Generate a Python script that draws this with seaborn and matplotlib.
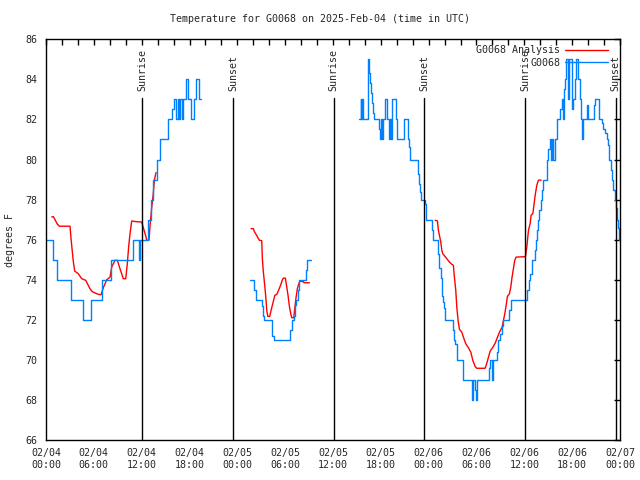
import matplotlib
matplotlib.use('Agg')
import matplotlib.pyplot as plt
import pandas as pd
import seaborn as sns

# hours since 2025-02-04 00:00 UTC, temperature in F
obs_day1 = [(0, 76), (0.84, 75), (1.42, 74), (3.10, 73), (4.60, 72), (5.61, 73), (6.99, 74),
            (8.12, 75), (10.95, 76), (11.70, 75), (11.83, 76), (12.84, 77), (13.17, 78),
            (13.46, 79), (13.89, 80), (14.30, 81), (15.27, 82), (15.85, 82.5), (16.10, 83),
            (16.35, 82), (16.50, 83), (16.70, 82), (16.85, 83), (17.05, 82), (17.20, 83),
            (17.53, 84), (17.80, 83), (18.16, 82), (18.57, 83), (18.82, 84), (19.20, 83),
            (19.41, 83)]
obs_day2 = [(25.60, 74), (26.14, 73.5), (26.39, 73), (27.14, 72.7), (27.26, 72.2), (27.39, 72),
            (28.39, 71.2), (28.64, 71), (30.65, 71.5), (30.90, 72), (31.15, 72.2), (31.28, 72.75),
            (31.40, 73), (31.66, 73.5), (31.78, 74), (32.66, 74.5), (32.79, 75), (33.21, 75)]
obs_day3 = [(39.31, 82), (39.45, 83), (39.56, 82), (39.69, 83), (39.80, 82), (40.44, 85),
            (40.56, 84.3), (40.69, 83.8), (40.81, 83.3), (40.94, 82.8), (41.07, 82.3), (41.19, 82),
            (41.82, 81.5), (41.94, 81), (42.07, 82), (42.20, 81), (42.32, 82), (42.57, 83),
            (42.82, 82), (43.07, 81), (43.20, 82), (43.32, 81), (43.45, 83), (43.87, 82),
            (44.08, 81), (44.96, 82), (45.38, 81), (45.50, 80.6), (45.63, 80), (46.71, 79.3),
            (46.84, 78.8), (46.96, 78.4), (47.09, 78), (47.55, 77.8), (47.68, 77), (48.39, 76.5),
            (48.60, 76), (49.14, 75.3), (49.35, 74.6), (49.52, 74.1), (49.69, 73.2), (49.85, 72.9),
            (49.98, 72.6), (50.10, 72), (51.10, 71.5), (51.23, 71), (51.36, 70.8), (51.53, 70),
            (52.28, 69.6), (52.36, 69), (53.49, 68), (53.61, 69), (53.79, 68.5), (53.91, 68),
            (54.04, 69), (55.62, 69.6), (55.71, 70), (55.96, 69), (56.12, 70), (56.63, 70.4),
            (56.75, 71), (56.96, 71.3), (57.17, 71.7), (57.30, 72), (58.13, 72.5), (58.38, 73),
            (60.31, 73.5), (60.56, 74), (60.73, 74.3), (60.94, 75), (61.36, 75.5), (61.48, 76),
            (61.65, 76.5), (61.77, 77), (61.90, 77.5), (62.07, 78), (62.20, 78.5), (62.32, 79),
            (62.82, 79.6), (62.90, 80), (63.02, 80.5), (63.24, 81), (63.40, 80), (63.53, 81),
            (63.65, 80), (63.90, 81), (64.08, 82), (64.49, 82.5), (64.70, 83), (64.83, 82),
            (64.96, 83.5), (65.08, 84), (65.21, 85), (65.46, 83), (65.66, 85), (65.96, 82.5),
            (66.16, 83), (66.37, 84), (66.50, 85), (66.79, 84), (67.00, 83), (67.13, 82),
            (67.25, 81), (67.38, 82), (67.84, 82.7), (67.97, 82), (68.76, 82.7), (68.92, 83),
            (69.42, 82), (69.72, 81.8), (69.92, 81.5), (70.14, 81.3), (70.35, 81), (70.48, 80.7),
            (70.68, 80), (70.86, 79.5), (70.98, 79), (71.18, 78.5), (71.39, 78), (71.51, 77.6),
            (71.68, 77), (71.80, 76.6), (71.88, 76), (72.0, 76)]

ana_day1 = [(0.72, 77.13), (0.92, 77.15), (1.13, 77.0), (1.38, 76.8), (1.67, 76.67), (3.01, 76.67),
            (3.14, 76.05), (3.30, 75.4), (3.43, 74.9), (3.60, 74.43), (4.05, 74.3), (4.48, 74.05),
            (4.98, 73.97), (5.52, 73.55), (5.81, 73.4), (6.56, 73.27), (6.90, 73.25), (7.19, 73.6),
            (7.62, 74.0), (8.03, 74.13), (8.24, 74.63), (8.66, 74.97), (8.95, 74.97), (9.28, 74.55),
            (9.70, 74.05), (10.00, 74.05), (10.20, 74.8), (10.38, 75.7), (10.54, 76.3),
            (10.75, 76.93), (11.29, 76.9), (12.00, 76.88), (12.30, 76.47), (12.55, 76.13),
            (12.63, 75.97), (12.92, 75.97), (13.05, 76.7), (13.26, 77.6), (13.46, 78.3),
            (13.59, 78.97), (13.80, 79.35)]
ana_day2 = [(25.72, 76.55), (26.01, 76.55), (26.14, 76.4), (26.44, 76.2), (26.76, 75.97),
            (27.06, 75.95), (27.14, 75.05), (27.26, 74.4), (27.44, 73.7), (27.57, 73.13),
            (27.69, 72.47), (27.82, 72.17), (28.07, 72.17), (28.19, 72.4), (28.44, 72.8),
            (28.70, 73.22), (28.95, 73.27), (29.20, 73.5), (29.45, 73.75), (29.65, 74.0),
            (29.77, 74.08), (30.03, 74.08), (30.20, 73.63), (30.36, 73.22), (30.53, 72.67),
            (30.70, 72.3), (30.83, 72.1), (31.08, 72.1), (31.20, 72.55), (31.37, 73.13),
            (31.53, 73.55), (31.71, 73.8), (31.87, 73.93), (32.28, 73.9), (32.37, 73.85),
            (33.04, 73.85)]
ana_day3 = [(48.81, 76.97), (49.10, 76.93), (49.22, 76.47), (49.35, 76.22), (49.52, 75.88),
            (49.65, 75.47), (49.77, 75.3), (49.94, 75.22), (50.27, 75.05), (50.60, 74.88),
            (50.90, 74.77), (51.10, 74.72), (51.23, 74.13), (51.40, 73.47), (51.53, 72.63),
            (51.69, 71.97), (51.86, 71.52), (52.16, 71.38), (52.36, 71.13), (52.66, 70.8),
            (52.99, 70.6), (53.29, 70.38), (53.54, 69.97), (53.83, 69.67), (54.04, 69.58),
            (55.08, 69.58), (55.29, 69.83), (55.50, 70.13), (55.71, 70.43), (56.05, 70.63),
            (56.34, 70.83), (56.63, 71.13), (56.88, 71.38), (57.21, 71.63), (57.38, 71.97),
            (57.55, 72.3), (57.72, 72.72), (57.88, 73.17), (58.13, 73.3), (58.30, 73.63),
            (58.46, 74.13), (58.63, 74.55), (58.80, 74.97), (58.97, 75.13), (60.14, 75.15),
            (60.31, 75.63), (60.52, 76.47), (60.73, 76.8), (60.85, 77.22), (61.07, 77.3),
            (61.23, 77.8), (61.36, 78.22), (61.57, 78.72), (61.77, 78.97), (62.11, 78.97)]

sunrise = [12.05, 36.10, 60.10]
sunset = [23.46, 47.43, 71.48]

tick_hours = [0, 6, 12, 18, 24, 30, 36, 42, 48, 54, 60, 66, 72]
tick_labels = ['02/04\n00:00', '02/04\n06:00', '02/04\n12:00', '02/04\n18:00',
               '02/05\n00:00', '02/05\n06:00', '02/05\n12:00', '02/05\n18:00',
               '02/06\n00:00', '02/06\n06:00', '02/06\n12:00', '02/06\n18:00',
               '02/07\n00:00']

sns.set_style('white')
plt.rcParams['font.family'] = ['DejaVu Sans Mono']
fs = 7.2

fig = plt.figure(figsize=(6.4, 4.8), dpi=100)
ax = fig.add_axes([46 / 640, 40 / 480, 574 / 640, 400.7 / 480])

red = '#ff0000'
blue = '#0080ff'

# analysis first, observations on top
for i, seg in enumerate([ana_day1, ana_day2, ana_day3]):
    d = pd.DataFrame(seg, columns=['hour', 'temp'])
    sns.lineplot(data=d, x='hour', y='temp', color=red, lw=1, sort=False, estimator=None,
                 label='G0068 Analysis' if i == 0 else None, ax=ax)
for i, seg in enumerate([obs_day1, obs_day2, obs_day3]):
    d = pd.DataFrame(seg, columns=['hour', 'temp'])
    sns.lineplot(data=d, x='hour', y='temp', color=blue, lw=1, sort=False, estimator=None,
                 drawstyle='steps-post', label='G0068' if i == 0 else None, ax=ax)

for t in sunrise:
    ax.plot([t, t], [66, 83.07], color='black', lw=1)
    ax.text(t, 83.4, 'Sunrise', rotation=90, ha='center', va='bottom', fontsize=fs)
for t in sunset:
    ax.plot([t, t], [66, 83.07], color='black', lw=1)
    ax.text(t, 83.4, 'Sunset', rotation=90, ha='center', va='bottom', fontsize=fs)

ax.set_xlim(0, 72)
ax.set_ylim(66, 86)
ax.set_xticks(tick_hours)
ax.set_xticklabels(tick_labels, fontsize=fs)
ax.set_xticks(range(0, 73, 2), minor=True)
ax.set_yticks(range(66, 87, 2))
ax.set_yticklabels([str(v) for v in range(66, 87, 2)], fontsize=fs)
ax.tick_params(which='both', direction='in', top=True, right=True, length=4, width=1,
               color='black')
ax.tick_params(axis='x', pad=6)
ax.tick_params(axis='y', pad=6)
for s in ax.spines.values():
    s.set_color('black')
    s.set_linewidth(1)
ax.set_xlabel('')
ax.set_ylabel('')

ax.legend(loc='upper right', bbox_to_anchor=(0.99, 1.0), frameon=False, markerfirst=False,
          handlelength=4.3, handletextpad=0.5, labelspacing=0.25, borderaxespad=0.2,
          fontsize=fs)

fig.text(0.5, 1 - 19 / 480, 'Temperature for G0068 on 2025-Feb-04 (time in UTC)',
         ha='center', va='center', fontsize=fs)
fig.text(10 / 640, 0.5, 'degrees F', rotation=90, ha='center', va='center', fontsize=fs)

fig.savefig('out.png', dpi=100, facecolor='white')
